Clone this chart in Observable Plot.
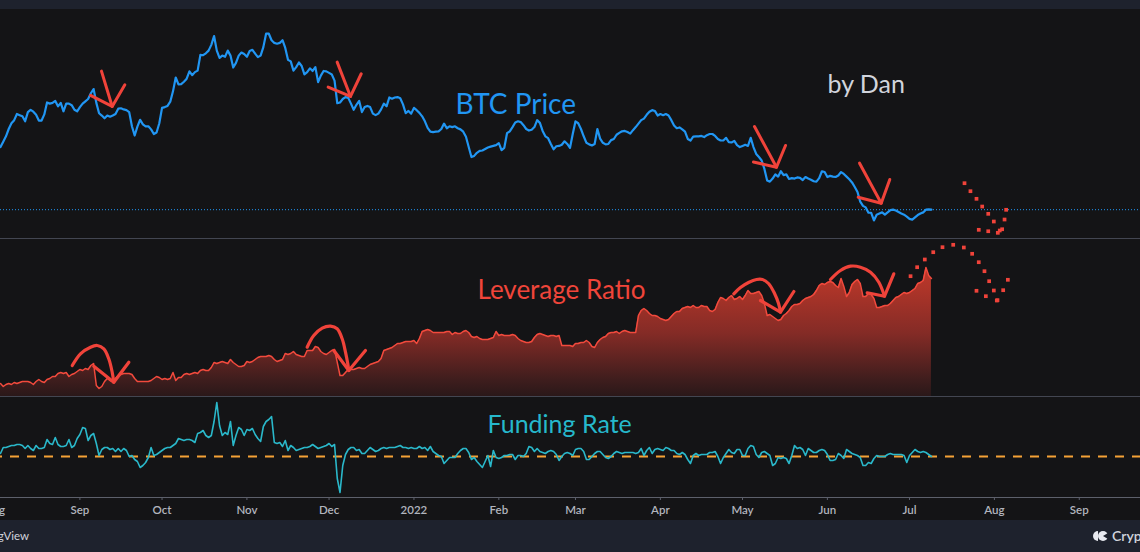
<!DOCTYPE html>
<html><head><meta charset="utf-8">
<script src="https://cdn.jsdelivr.net/npm/d3@7"></script>
<script src="https://cdn.jsdelivr.net/npm/@observablehq/plot@0.6"></script>
<style>
html,body{margin:0;padding:0;background:#141416;width:1140px;height:552px;overflow:hidden;font-family:Lato,sans-serif;}
#top{height:9px;background:#1e222d;}
.sep{height:1px;background:#434651;}
.pane svg{display:block;}
#foot{position:relative;height:32px;background:#1e222d;color:#d1d4dc;overflow:hidden;}
#tv{position:absolute;right:1111px;top:8px;font-size:11.5px;line-height:16px;white-space:nowrap;}
#cq{position:absolute;left:1092px;top:7px;font-size:14px;line-height:18px;white-space:nowrap;display:flex;align-items:center;gap:4px;font-weight:600;}
</style></head><body>
<div id="top"></div>
<div id="p1" class="pane"></div><div class="sep"></div>
<div id="p2" class="pane"></div><div class="sep"></div>
<div id="p3" class="pane"></div>
<div id="foot"><span id="tv">TradingView</span><span id="cq"><svg width="16" height="12" viewBox="0 0 16 12"><path d="M6 1 A5 5 0 0 0 6 11 Z" fill="#e8eaf0"/><circle cx="11" cy="6" r="5" fill="#e8eaf0"/><path d="M11 6 L16 3 L16 9 Z" fill="#1e222d"/></svg>CryptoQuant</span></div>
<script>
// ---- data (daily, starting 2021-08-03) ----
const startDate = "2021-08-03";
const btcPrice = [
37600,39000,40400,42300,43800,44600,46200,45900,45600,44300,
46700,47300,46800,46000,44500,44500,46100,49200,48900,49100,
49600,48200,49100,46900,48900,48900,48500,47300,46900,48000,
48900,49500,50100,51600,52700,49100,46400,45800,45100,45800,
45500,45800,46200,47600,47700,47400,47200,46700,43000,40600,
42900,44700,43500,43000,43000,42200,41000,41400,43800,47800,
48000,48300,49400,52100,55700,53900,54000,54600,55400,57300,
56300,57100,57500,61600,61500,62000,62700,64200,66500,62700,
60800,61400,61100,62700,61400,58300,59500,61400,62200,61800,
61100,62600,62900,61900,61000,61400,63600,67100,67100,65400,
64700,64500,64700,65400,63400,60300,59900,57500,58400,59600,
58700,56500,57100,58100,57400,58400,54500,56200,57400,57300,
56900,56500,54900,49000,49200,50100,50600,50400,48900,47300,
48600,49600,46700,48000,48300,48000,46300,45900,46300,47400,
48900,48200,50500,50200,50500,50600,50300,48700,46400,47000,
46300,47800,47200,46500,45600,44300,42600,41600,41500,41600,
41700,42300,43700,42500,43000,42800,43000,42500,42200,41600,
40300,37600,35000,35300,36100,36600,36700,37100,37500,37700,
37900,38100,38600,36800,37400,41200,41700,42800,44000,44300,
44100,43300,42300,41900,42100,42800,44600,43900,41800,40400,
39900,38400,37000,37800,37900,38200,39100,38400,37400,41000,
44300,43800,42300,40400,38700,38300,38000,38400,42300,39800,
38700,38300,38400,39400,39700,40800,41300,41700,41800,41500,
41100,42000,42800,43700,44600,45000,46000,46800,47200,47000,
45800,46200,45900,46200,45800,44600,43200,42500,42700,42200,
41600,39700,39300,40300,40400,40400,40500,40200,40700,41000,
41000,40500,39700,39300,39300,40000,38900,38800,39200,38100,
37600,37900,38200,37900,40000,37600,35800,35000,34100,31900,
28900,28600,29400,30500,29900,31300,30300,30500,29300,29500,
29400,29700,29600,29000,29800,29400,29100,28700,28600,29500,
31300,31100,29800,30100,29900,29800,30200,31100,30600,29900,
29200,28400,27200,25900,23400,22300,21900,20500,20500,18500,
20000,20300,20600,20000,20600,21200,21300,21100,20700,20300,
20000,19500,18900,18700,19300,19900,20300,20600,21300,21400,21300];
const leverageRatio = [
.163,.160,.162,.163,.162,.164,.163,.164,.165,.165,
.165,.164,.162,.165,.167,.165,.164,.167,.168,.170,
.170,.173,.174,.173,.174,.170,.172,.173,.175,.177,
.176,.178,.177,.181,.183,.161,.158,.160,.165,.168,
.166,.165,.168,.171,.172,.173,.173,.173,.172,.168,
.165,.165,.165,.165,.165,.166,.168,.170,.169,.167,
.168,.167,.168,.174,.166,.169,.169,.172,.173,.172,
.173,.174,.173,.176,.177,.176,.176,.179,.184,.183,
.184,.185,.184,.183,.187,.184,.182,.180,.180,.181,
.185,.184,.185,.187,.189,.190,.190,.190,.191,.190,
.187,.185,.186,.187,.193,.192,.193,.195,.192,.191,
.190,.190,.196,.196,.196,.200,.199,.195,.193,.192,
.194,.196,.197,.184,.171,.171,.174,.177,.177,.177,
.178,.179,.178,.178,.180,.182,.183,.184,.185,.188,
.196,.197,.198,.199,.201,.203,.203,.204,.205,.205,
.205,.206,.203,.208,.215,.216,.217,.216,.214,.214,
.214,.214,.214,.215,.215,.212,.214,.213,.213,.215,
.216,.214,.210,.209,.210,.208,.207,.207,.207,.208,
.209,.215,.211,.212,.211,.211,.211,.212,.211,.208,
.206,.205,.204,.204,.205,.209,.212,.213,.212,.211,
.210,.211,.211,.210,.211,.201,.201,.201,.201,.200,
.203,.203,.204,.204,.206,.204,.200,.199,.204,.207,
.209,.210,.213,.214,.214,.215,.213,.215,.216,.215,
.214,.214,.214,.231,.236,.238,.236,.233,.231,.231,
.230,.228,.227,.226,.227,.230,.233,.235,.235,.238,
.239,.240,.239,.241,.239,.239,.241,.240,.240,.236,
.235,.237,.244,.249,.248,.246,.249,.251,.247,.248,
.250,.247,.251,.256,.253,.253,.254,.255,.251,.243,
.231,.232,.230,.228,.226,.227,.231,.233,.236,.240,
.242,.242,.243,.246,.248,.249,.250,.252,.256,.261,
.263,.262,.264,.265,.264,.261,.259,.268,.260,.250,
.254,.262,.265,.267,.263,.250,.250,.253,.252,.248,
.239,.239,.240,.241,.241,.243,.246,.249,.250,.252,
.254,.253,.254,.256,.258,.263,.264,.266,.279,.271,.268];
const fundingRate = [
.013,.019,.019,.020,.021,.021,.022,.022,.021,.018,
.021,.018,.016,.021,.018,.018,.019,.027,.023,.022,
.029,.022,.020,.020,.021,.027,.019,.021,.028,.032,
.039,.038,.026,.031,.033,.023,.011,.017,.019,.019,
.017,.018,.015,.018,.015,.018,.016,.010,.011,.007,
.005,-.001,.001,.004,.009,.019,.011,.012,.014,.016,
.018,.019,.019,.021,.023,.028,.027,.026,.027,.027,
.026,.024,.033,.034,.036,.031,.029,.031,.045,.064,
.041,.031,.034,.032,.045,.021,.031,.039,.037,.031,
.037,.036,.038,.032,.028,.025,.040,.045,.047,.050,
.024,.023,.024,.020,.026,.016,.021,.019,.016,.017,
.018,.019,.019,.020,.022,.020,.018,.019,.020,.021,
.023,.020,.022,-.012,-.026,.001,.012,.017,.019,.019,
.016,.017,.013,.013,.016,.019,.017,.015,.016,.018,
.019,.018,.019,.019,.019,.020,.021,.019,.019,.018,
.019,.018,.018,.020,.018,.019,.016,.020,.015,.013,
.011,.010,.003,.006,.009,.009,.009,.013,.016,.018,
.018,.014,.007,.009,.005,.002,-.001,.005,.011,.000,
.016,.009,.008,.009,.011,.011,.012,.012,.007,.011,
.011,.010,.013,.020,.019,.015,.018,.015,.014,.013,
.015,.016,.015,.012,.006,.010,.013,.014,.013,.011,
.017,.018,.018,.015,.007,.007,.010,.013,.015,.015,
.012,.009,.008,.010,.013,.015,.014,.013,.014,.014,
.014,.014,.013,.014,.018,.011,.016,.019,.013,.017,
.018,.017,.016,.019,.018,.016,.016,.013,.012,.014,
.012,.007,.003,.011,.013,.011,.012,.012,.012,.014,
.014,.015,.010,.003,.009,.013,.017,.014,.013,.017,
.017,.011,.011,.018,.021,.020,.012,.009,.014,.015,
.013,.011,.001,.003,.009,.008,.009,.008,.003,.011,
.021,.018,.019,.017,.011,.018,.016,.014,.014,.016,
.017,.016,.012,.006,.006,.007,.013,.011,.008,.017,
.015,.013,.012,.011,.009,.001,.001,.004,.003,.008,
.011,.010,.010,.010,.012,.013,.012,.012,.012,.012,
.011,.004,.011,.014,.017,.015,.014,.015,.014,.012,.010];
const fundingBaseline = 0.01;
const tickDates = ["2021-08-01","2021-09-01","2021-10-01","2021-11-01","2021-12-01","2022-01-01","2022-02-01","2022-03-01","2022-04-01","2022-05-01","2022-06-01","2022-07-01","2022-08-01","2022-09-01"];
const tickLabels = ["Aug","Sep","Oct","Nov","Dec","2022","Feb","Mar","Apr","May","Jun","Jul","Aug","Sep"];

// ---- annotations (date, value in each pane's units) ----
const priceArrows = [
["a1s","2021-09-08T21:00Z",57360],["a1s","2021-09-12T19:00Z",48170],
["a1v","2021-09-04T21:00Z",51030],["a1v","2021-09-12T19:00Z",48170],["a1v","2021-09-17T10:00Z",53815],
["a2s","2021-12-03T23:00Z",59700],["a2s","2021-12-08T20:00Z",50770],
["a2v","2021-11-30T16:00Z",53190],["a2v","2021-12-08T20:00Z",50770],["a2v","2021-12-12T18:00Z",56680],
["a3s","2022-05-05T09:00Z",42960],["a3s","2022-05-13T10:00Z",32360],
["a3v","2022-05-05T00:00Z",33710],["a3v","2022-05-13T10:00Z",32360],["a3v","2022-05-16T17:00Z",38010],
["a4s","2022-06-12T18:00Z",33400],["a4s","2022-06-20T16:00Z",22980],
["a4v","2022-06-12T06:00Z",24550],["a4v","2022-06-20T16:00Z",22980],["a4v","2022-06-23T19:00Z",29160]];
const priceDots = [
["2022-07-21T02:00Z",28190],["2022-07-23T06:00Z",26110],["2022-07-25T11:00Z",24130],["2022-07-27T13:00Z",22120],
["2022-07-29T18:00Z",20220],["2022-07-31T19:00Z",18220],["2022-07-26T07:00Z",16060],["2022-07-29T18:00Z",15690],
["2022-08-02T06:00Z",15280],["2022-08-02T23:00Z",15880],["2022-08-03T20:00Z",16210],["2022-08-04T17:00Z",18740],
["2022-08-05T07:00Z",21270]];
const leverageArcs = [
["c1","2021-08-29T05:00Z",.181],["c1","2021-09-01T05:00Z",.1927],["c1","2021-09-04T21:00Z",.1993],["c1","2021-09-07T08:00Z",.201],
["c1","2021-09-09T18:00Z",.1977],["c1","2021-09-11T13:00Z",.1877],["c1","2021-09-12T19:00Z",.1743],["c1","2021-09-13T09:00Z",.1643],
["c2","2021-11-23T00:00Z",.1993],["c2","2021-11-25T10:00Z",.211],["c2","2021-11-28T12:00Z",.2183],["c2","2021-12-01T13:00Z",.2203],
["c2","2021-12-03T23:00Z",.2177],["c2","2021-12-05T19:00Z",.2077],["c2","2021-12-07T00:00Z",.1943],["c2","2021-12-07T20:00Z",.1827],["c2","2021-12-08T05:00Z",.176],
["c3","2022-04-27T20:00Z",.2527],["c3","2022-04-30T06:00Z",.259],["c3","2022-05-03T05:00Z",.264],["c3","2022-05-06T03:00Z",.267],
["c3","2022-05-08T07:00Z",.267],["c3","2022-05-10T12:00Z",.263],["c3","2022-05-12T17:00Z",.253],["c3","2022-05-14T04:00Z",.243],["c3","2022-05-14T21:00Z",.2343],
["c4","2022-06-02T03:00Z",.267],["c4","2022-06-05T19:00Z",.276],["c4","2022-06-09T11:00Z",.2803],["c4","2022-06-13T02:00Z",.2793],
["c4","2022-06-16T18:00Z",.2743],["c4","2022-06-19T19:00Z",.2643],["c4","2022-06-21T21:00Z",.2503]];
const leverageWings = [
["w1","2021-09-06T02:00Z",.1803],["w1","2021-09-13T09:00Z",.1643],["w1","2021-09-18T21:00Z",.1843],
["w2","2021-12-02T18:00Z",.196],["w2","2021-12-08T05:00Z",.176],["w2","2021-12-14T07:00Z",.196],
["w3","2022-05-07T14:00Z",.246],["w3","2022-05-14T21:00Z",.2343],["w3","2022-05-19T18:00Z",.255],
["w4","2022-06-15T13:00Z",.2537],["w4","2022-06-21T21:00Z",.2503],["w4","2022-06-25T06:00Z",.2727]];
const leverageDots = [
["2022-07-01T09:00Z",.2703],["2022-07-03T19:00Z",.2793],["2022-07-06T14:00Z",.287],["2022-07-09T16:00Z",.2943],
["2022-07-13T01:00Z",.2993],["2022-07-16T23:00Z",.3017],["2022-07-20T20:00Z",.299],["2022-07-23T21:00Z",.2927],
["2022-07-26T07:00Z",.2843],["2022-07-28T09:00Z",.2753],["2022-07-30T02:00Z",.2653],["2022-07-31T19:00Z",.256],
["2022-08-02T03:00Z",.2463],["2022-07-25T11:00Z",.2557],["2022-07-28T21:00Z",.2503],["2022-08-01T21:00Z",.246],
["2022-08-04T05:00Z",.2563],["2022-08-05T22:00Z",.2667]];
const labels = {
  btc: {text:"BTC Price", date:"2022-01-16T04:00Z", value:46080},
  dan: {text:"by Dan", date:"2022-06-01T01:00Z", value:51630},
  lev: {text:"Leverage Ratio", date:"2022-01-24T05:00Z", value:0.2477},
  fund:{text:"Funding Rate", date:"2022-01-27T21:00Z", value:0.034}
};

// ---- build ----
const start = new Date(startDate + "T00:00Z");
const xDomain = [start, new Date(+start + 416.36 * 864e5)];
const rows = btcPrice.map((btc, i) => ({date: d3.utcDay.offset(start, i), btc, lev: leverageRatio[i], fund: fundingRate[i]}));
const seg = ([id, d, v]) => ({id, date: new Date(d), value: v});
const dot = ([d, v]) => ({date: new Date(d), value: v});
const RED = "#f0433a";
const BG = "#141416";
const xOpt = {type: "utc", domain: xDomain, axis: null};
const lab = (l, o) => Plot.text([l], {x: d => new Date(d.date), y: "value", text: "text", textAnchor: "start", lineAnchor: "bottom", fontFamily: "Lato", ...o});

const p1 = Plot.plot({
  width: 1140, height: 229, margin: 0,
  x: xOpt, y: {domain: [13800, 73400], axis: null},
  style: {background: BG, fontFamily: "Lato"},
  marks: [
    Plot.ruleY([btcPrice[btcPrice.length - 1]], {stroke: "#2196f3", strokeWidth: 1, strokeDasharray: "1,2"}),
    Plot.line(rows, {x: "date", y: "btc", stroke: "#2196f3", strokeWidth: 2.2, strokeLinejoin: "round"}),
    Plot.line(priceArrows.map(seg), {x: "date", y: "value", z: "id", stroke: RED, strokeWidth: 3, strokeLinecap: "round", strokeLinejoin: "round"}),
    Plot.dot(priceDots.map(dot), {x: "date", y: "value", symbol: "square", r: 2.1, fill: RED}),
    lab(labels.btc, {fill: "#2196f3", fontSize: 28}),
    lab(labels.dan, {fill: "#d1d4dc", fontSize: 25})
  ]
});

const gradMark = () => {
  const g = document.createElementNS("http://www.w3.org/2000/svg", "defs");
  g.innerHTML = `<linearGradient id="levGrad" gradientUnits="userSpaceOnUse" x1="0" y1="0" x2="0" y2="157">
    <stop offset="0" stop-color="#cc3c30"/><stop offset="0.3" stop-color="#b03529"/>
    <stop offset="0.6" stop-color="#842b26"/><stop offset="0.9" stop-color="#3e1d1d"/><stop offset="1" stop-color="#2a1819"/></linearGradient>`;
  return g;
};
const levBase = 0.150;
const p2 = Plot.plot({
  width: 1140, height: 157, margin: 0,
  x: xOpt, y: {domain: [levBase, 0.307], axis: null},
  style: {background: BG, fontFamily: "Lato"},
  marks: [
    gradMark,
    Plot.areaY(rows, {x: "date", y1: () => levBase, y2: "lev", fill: "url(#levGrad)"}),
    Plot.line(rows, {x: "date", y: "lev", stroke: "#f24a3d", strokeWidth: 1.5}),
    Plot.line(leverageArcs.map(seg), {x: "date", y: "value", z: "id", curve: "catmull-rom", stroke: RED, strokeWidth: 3.2, strokeLinecap: "round"}),
    Plot.line(leverageWings.map(seg), {x: "date", y: "value", z: "id", stroke: RED, strokeWidth: 3.2, strokeLinecap: "round", strokeLinejoin: "round"}),
    Plot.dot(leverageDots.map(dot), {x: "date", y: "value", symbol: "square", r: 2.1, fill: RED}),
    lab(labels.lev, {fill: "#f0453a", fontSize: 26})
  ]
});

const tickDateObjs = tickDates.map(d => new Date(d + "T00:00Z"));
const tickMap = new Map(tickDateObjs.map((d, i) => [+d, tickLabels[i]]));
const p3 = Plot.plot({
  width: 1140, height: 123, margin: 0, marginBottom: 23,
  x: xOpt, y: {domain: [-0.031, 0.069], axis: null},
  style: {background: BG, fontFamily: "Lato", color: "#b2b5be"},
  marks: [
    Plot.ruleY([fundingBaseline], {stroke: "#f5a236", strokeWidth: 2, strokeDasharray: "9,8", strokeDashoffset: 7}),
    Plot.line(rows, {x: "date", y: "fund", stroke: "#2ab8ca", strokeWidth: 1.6, strokeLinejoin: "round"}),
    Plot.ruleY([-0.031], {stroke: "#5d606b", strokeWidth: 1}),
    Plot.axisX({ticks: tickDateObjs, tickFormat: d => tickMap.get(+d), tickSize: 3, tickPadding: 5, stroke: "#5d606b", fill: "#b2b5be", fontSize: 11.5, fontWeight: 600}),
    lab(labels.fund, {fill: "#26b8cc", fontSize: 25})
  ]
});

document.getElementById("p1").append(p1);
document.getElementById("p2").append(p2);
document.getElementById("p3").append(p3);
</script>
</body></html>
